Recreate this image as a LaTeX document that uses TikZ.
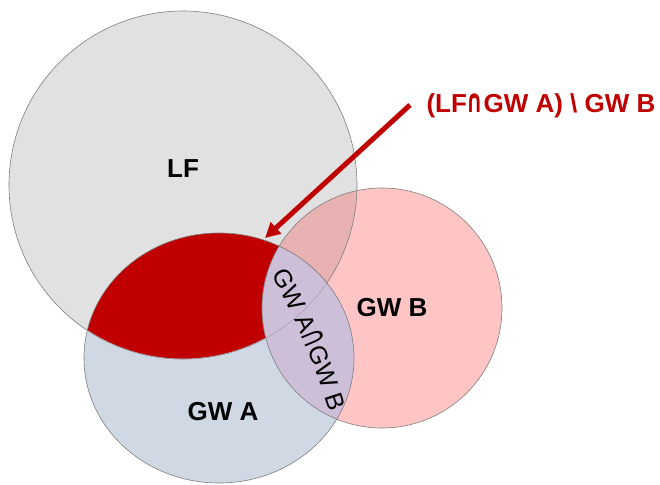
\documentclass[tikz,border=0pt]{standalone}
\usepackage{fontspec}
\usepackage{graphicx}
\setmainfont{Liberation Sans}
\newfontfamily\dvfont{DejaVu Sans}
\newfontfamily\capfont[FakeStretch=0.62]{DejaVu Sans}
\usetikzlibrary{arrows.meta,decorations.text}
\definecolor{lfgray}{HTML}{E1E1E1}
\definecolor{gbpink}{HTML}{FFC5C5}
\definecolor{gbdark}{HTML}{E8B2B2}
\definecolor{gablue}{HTML}{CFD8E3}
\definecolor{hired}{HTML}{C00000}
\definecolor{lens}{HTML}{CDBFD8}
\definecolor{outl}{HTML}{7F7F7F}
\newcommand\pLF{(183,185) circle [radius=174]}
\newcommand\pGA{(219,358) ellipse [x radius=135, y radius=125]}
\newcommand\pGB{(382,308) circle [radius=120]}
\newcommand\capsym{\resizebox{0.64em}{0.716em}{\dvfont ∩}}
\begin{document}
\begin{tikzpicture}[x=1pt,y=-1pt,
  lbl/.style={inner sep=0pt, font=\fontsize{26}{30}\selectfont\bfseries},
  edge/.style={draw=outl, line width=0.6pt},
  arr/.style={draw=hired, line width=5pt, -{Triangle[length=15pt,width=15pt]}}]
\useasboundingbox (0,0) rectangle (660,484);
% fills
\fill[lfgray] \pLF;
\fill[gbpink] \pGB;
\begin{scope}
  \clip \pLF;
  \fill[gbdark] \pGB;
\end{scope}
\fill[gablue] \pGA;
\begin{scope}
  \clip \pLF;
  \fill[hired] \pGA;
\end{scope}
\path[edge] \pLF;
\begin{scope}
  \clip \pGA;
  \fill[lens] \pGB;
  \draw[draw=outl!45!lens, line width=0.6pt] \pLF;
\end{scope}
\path[edge] \pGB;
\path[edge] \pGA;
% labels
\node[lbl] (lf) at (183,169) {LF};
\node[lbl] (ga) at (223,412) {GW A};
\node[lbl] (gb) at (392,308) {GW B};
\node[lbl, text=hired] (diff) at (541,106) {(LF\capsym GW A) \textbackslash\ GW B};
\path[decorate, decoration={text along path, text align=center,
  text={|\fontsize{25}{25}\selectfont|GW A|\capfont\fontsize{36}{36}\selectfont|∩|\normalfont\fontsize{25}{25}\selectfont|GW B}}]
  (262.5,261) .. controls (294.8,312.7) and (316.7,369.7) .. (334.5,428);
% arrow
\coordinate (astart) at (410,105);
\coordinate (atip) at (265,238);
\draw[arr] (astart) -- (atip);
\end{tikzpicture}
\end{document}
